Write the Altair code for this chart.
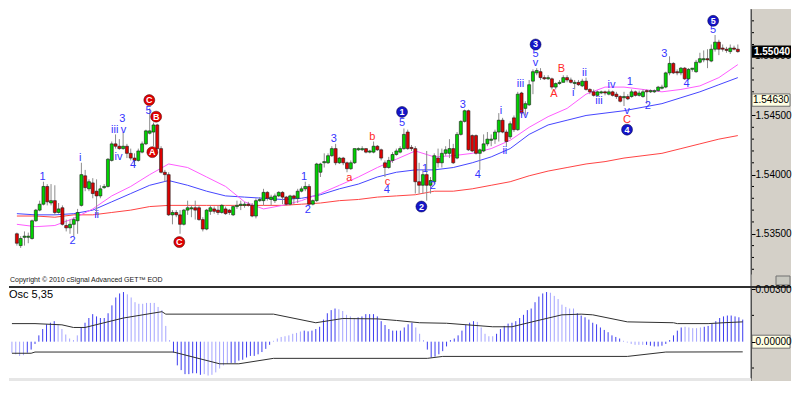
import altair as alt
import pandas as pd

# ---------------- data ----------------
OPEN = [1.5350,1.5340,1.5347,1.5347,1.5346,1.5361,1.5370,1.5375,1.5390,1.5376,
        1.5378,1.5368,1.5372,1.5357,1.5355,1.5358,1.5361,1.5374,1.5399,1.5388,
        1.5393,1.5386,1.5382,1.5389,1.5390,1.5412,1.5426,1.5424,1.5422,1.5424,
        1.5418,1.5414,1.5412,1.5419,1.5426,1.5435,1.5436,1.5442,1.5422,1.5402,
        1.5400,1.5366,1.5368,1.5366,1.5358,1.5370,1.5371,1.5372,1.5372,1.5362,
        1.5354,1.5369,1.5371,1.5370,1.5368,1.5371,1.5370,1.5366,1.5373,1.5374,
        1.5374,1.5375,1.5374,1.5365,1.5378,1.5378,1.5385,1.5379,1.5378,1.5382,
        1.5385,1.5381,1.5375,1.5382,1.5380,1.5386,1.5388,1.5390,1.5375,1.5378,
        1.5402,1.5410,1.5410,1.5416,1.5422,1.5410,1.5414,1.5410,1.5405,1.5410,
        1.5421,1.5421,1.5422,1.5419,1.5419,1.5424,1.5421,1.5410,1.5406,1.5412,
        1.5417,1.5419,1.5422,1.5436,1.5423,1.5422,1.5394,1.5391,1.5400,1.5391,
        1.5394,1.5414,1.5410,1.5418,1.5418,1.5422,1.5414,1.5434,1.5445,1.5454,
        1.5433,1.5433,1.5418,1.5420,1.5426,1.5429,1.5430,1.5436,1.5446,1.5436,
        1.5432,1.5448,1.5438,1.5469,1.5456,1.5459,1.5479,1.5486,1.5487,1.5482,
        1.5481,1.5481,1.5474,1.5477,1.5478,1.5482,1.5480,1.5477,1.5478,1.5475,
        1.5479,1.5472,1.5470,1.5467,1.5469,1.5470,1.5468,1.5470,1.5468,1.5466,
        1.5465,1.5466,1.5466,1.5470,1.5467,1.5466,1.5471,1.5470,1.5470,1.5471,
        1.5473,1.5474,1.5486,1.5494,1.5487,1.5486,1.5490,1.5481,1.5489,1.5487,
        1.5495,1.5497,1.5498,1.5496,1.5506,1.5512,1.5507,1.5506,1.5504,1.5507,
        1.5506]
HIGH = [1.5351,1.5348,1.5352,1.5351,1.5362,1.5371,1.5378,1.5394,1.5392,1.5392,
        1.5391,1.5376,1.5374,1.5362,1.5362,1.5364,1.5371,1.5410,1.5404,1.5396,
        1.5397,1.5396,1.5391,1.5392,1.5414,1.5428,1.5434,1.5430,1.5436,1.5426,
        1.5422,1.5418,1.5422,1.5428,1.5438,1.5456,1.5444,1.5443,1.5424,1.5404,
        1.5402,1.5370,1.5370,1.5370,1.5371,1.5378,1.5374,1.5378,1.5374,1.5364,
        1.5371,1.5374,1.5373,1.5374,1.5375,1.5373,1.5371,1.5374,1.5378,1.5378,
        1.5377,1.5377,1.5376,1.5380,1.5381,1.5388,1.5386,1.5383,1.5384,1.5386,
        1.5386,1.5382,1.5383,1.5383,1.5388,1.5390,1.5394,1.5392,1.5379,1.5410,
        1.5410,1.5418,1.5418,1.5424,1.5426,1.5415,1.5415,1.5411,1.5412,1.5422,
        1.5423,1.5424,1.5422,1.5421,1.5428,1.5425,1.5422,1.5412,1.5415,1.5419,
        1.5422,1.5424,1.5439,1.5438,1.5425,1.5424,1.5410,1.5404,1.5420,1.5398,
        1.5418,1.5422,1.5422,1.5424,1.5430,1.5426,1.5436,1.5446,1.5455,1.5455,
        1.5434,1.5434,1.5422,1.5434,1.5436,1.5434,1.5438,1.5452,1.5448,1.5438,
        1.5445,1.5450,1.5470,1.5470,1.5462,1.5480,1.5489,1.5490,1.5490,1.5484,
        1.5484,1.5482,1.5478,1.5480,1.5484,1.5484,1.5482,1.5480,1.5480,1.5481,
        1.5482,1.5473,1.5472,1.5471,1.5471,1.5471,1.5472,1.5471,1.5470,1.5467,
        1.5470,1.5468,1.5472,1.5471,1.5471,1.5472,1.5472,1.5472,1.5472,1.5475,
        1.5476,1.5487,1.5500,1.5495,1.5489,1.5491,1.5491,1.5490,1.5490,1.5497,
        1.5503,1.5505,1.5506,1.5510,1.5518,1.5514,1.5510,1.5508,1.5510,1.5509,
        1.5510]
LOW = [1.5340,1.5338,1.5340,1.5342,1.5345,1.5360,1.5369,1.5374,1.5374,1.5374,
       1.5366,1.5367,1.5357,1.5352,1.5350,1.5348,1.5350,1.5373,1.5386,1.5386,
       1.5380,1.5366,1.5380,1.5388,1.5389,1.5411,1.5422,1.5421,1.5421,1.5414,
       1.5412,1.5408,1.5411,1.5418,1.5425,1.5434,1.5424,1.5421,1.5401,1.5394,
       1.5365,1.5358,1.5364,1.5350,1.5357,1.5366,1.5364,1.5362,1.5361,1.5352,
       1.5353,1.5366,1.5367,1.5366,1.5367,1.5366,1.5366,1.5365,1.5371,1.5370,
       1.5372,1.5373,1.5364,1.5363,1.5377,1.5374,1.5378,1.5374,1.5376,1.5381,
       1.5375,1.5374,1.5374,1.5375,1.5376,1.5385,1.5386,1.5374,1.5374,1.5377,
       1.5398,1.5406,1.5409,1.5415,1.5408,1.5409,1.5408,1.5402,1.5404,1.5409,
       1.5420,1.5420,1.5418,1.5418,1.5418,1.5420,1.5412,1.5398,1.5405,1.5410,
       1.5416,1.5418,1.5421,1.5421,1.5420,1.5384,1.5384,1.5384,1.5378,1.5384,
       1.5392,1.5406,1.5406,1.5416,1.5414,1.5409,1.5413,1.5433,1.5444,1.5420,
       1.5419,1.5417,1.5404,1.5419,1.5424,1.5424,1.5426,1.5428,1.5435,1.5424,
       1.5430,1.5436,1.5437,1.5450,1.5450,1.5458,1.5468,1.5484,1.5480,1.5480,
       1.5480,1.5472,1.5472,1.5476,1.5478,1.5478,1.5477,1.5472,1.5475,1.5474,
       1.5471,1.5468,1.5466,1.5466,1.5468,1.5467,1.5467,1.5466,1.5464,1.5461,
       1.5458,1.5463,1.5465,1.5466,1.5466,1.5465,1.5460,1.5469,1.5469,1.5470,
       1.5472,1.5473,1.5484,1.5485,1.5484,1.5484,1.5480,1.5480,1.5487,1.5486,
       1.5494,1.5495,1.5490,1.5495,1.5504,1.5501,1.5504,1.5503,1.5502,1.5505,
       1.5503]
CLOSE = [1.5342,1.5346,1.5348,1.5348,1.5361,1.5370,1.5375,1.5390,1.5377,1.5378,
         1.5368,1.5371,1.5358,1.5355,1.5358,1.5362,1.5368,1.5400,1.5389,1.5394,
         1.5384,1.5382,1.5388,1.5390,1.5413,1.5426,1.5424,1.5422,1.5424,1.5418,
         1.5414,1.5412,1.5420,1.5426,1.5437,1.5437,1.5442,1.5422,1.5402,1.5400,
         1.5366,1.5368,1.5366,1.5358,1.5370,1.5372,1.5372,1.5370,1.5362,1.5354,
         1.5370,1.5372,1.5369,1.5368,1.5374,1.5367,1.5368,1.5373,1.5374,1.5375,
         1.5375,1.5374,1.5365,1.5378,1.5379,1.5385,1.5380,1.5381,1.5382,1.5385,
         1.5381,1.5375,1.5382,1.5380,1.5386,1.5388,1.5390,1.5375,1.5378,1.5409,
         1.5409,1.5411,1.5416,1.5422,1.5410,1.5414,1.5410,1.5405,1.5410,1.5422,
         1.5422,1.5422,1.5419,1.5420,1.5424,1.5421,1.5414,1.5406,1.5412,1.5417,
         1.5420,1.5422,1.5434,1.5422,1.5422,1.5394,1.5391,1.5400,1.5391,1.5395,
         1.5416,1.5410,1.5418,1.5421,1.5422,1.5410,1.5434,1.5445,1.5454,1.5421,
         1.5420,1.5418,1.5421,1.5426,1.5430,1.5430,1.5436,1.5446,1.5436,1.5428,
         1.5443,1.5438,1.5468,1.5452,1.5460,1.5476,1.5487,1.5488,1.5482,1.5481,
         1.5482,1.5474,1.5477,1.5478,1.5482,1.5480,1.5478,1.5478,1.5476,1.5479,
         1.5472,1.5470,1.5467,1.5470,1.5470,1.5469,1.5470,1.5467,1.5466,1.5462,
         1.5466,1.5464,1.5470,1.5467,1.5469,1.5470,1.5470,1.5471,1.5471,1.5474,
         1.5474,1.5486,1.5494,1.5486,1.5486,1.5490,1.5481,1.5489,1.5490,1.5495,
         1.5498,1.5498,1.5497,1.5506,1.5512,1.5506,1.5506,1.5505,1.5507,1.5506,
         1.5504]

# moving averages, read at every 5th bar
MA_IDX = [0,5,10,15,20,25,30,35,40,45,50,55,60,65,70,75,80,85,90,95,
          100,105,110,115,120,125,130,135,140,145,150,155,160,165,170,175,180,185,190]
MA_FAST = [1.5358,1.5356,1.5357,1.5363,1.5371,1.5382,1.5390,1.5400,1.5409,1.5406,
           1.5398,1.5390,1.5377,1.5371,1.5374,1.5378,1.5384,1.5391,1.5398,1.5406,
           1.5413,1.5420,1.5415,1.5416,1.5418,1.5422,1.5429,1.5440,1.5449,1.5456,
           1.5468,1.5474,1.5474,1.5472,1.5470,1.5472,1.5475,1.5482,1.5493]
MA_MID = [1.5367,1.5366,1.5366,1.5367,1.5370,1.5377,1.5384,1.5391,1.5395,1.5391,
          1.5386,1.5382,1.5381,1.5380,1.5379,1.5380,1.5383,1.5388,1.5392,1.5398,
          1.5402,1.5404,1.5404,1.5406,1.5410,1.5415,1.5422,1.5434,1.5442,1.5446,
          1.5450,1.5452,1.5454,1.5457,1.5460,1.5465,1.5470,1.5476,1.5482]
MA_SLOW = [1.5365,1.5365,1.5364,1.5366,1.5366,1.5368,1.5370,1.5373,1.5374,1.5374,
           1.5374,1.5374,1.5374,1.5374,1.5374,1.5375,1.5376,1.5378,1.5379,1.5381,
           1.5382,1.5383,1.5386,1.5386,1.5388,1.5391,1.5394,1.5399,1.5403,1.5406,
           1.5409,1.5411,1.5414,1.5416,1.5418,1.5422,1.5426,1.5430,1.5433]

# wave labels: text, bar position, price, kind (b=blue text, r=red text, bc=blue circle, rc=red circle)
LAB_TEXT = ["1","2","i","ii","iii","v","3","iv","4","5",
            "1","2","3","4","5","1","2","3","4","i","ii","iii","iv","5","v",
            "i","ii","iii","iv","1","v","2","3","4","5",
            "a","b","c","A","B","C",
            "C","B","A","C",
            "1","2","3","4","5"]
LAB_X = [6.8,14.7,16.7,21.0,25.8,28.1,27.8,26.8,30.6,34.7,
         75.7,76.7,83.5,97.5,101.5,107.6,109.6,117.5,121.5,127.6,128.6,132.7,133.7,136.7,136.7,
         146.6,149.6,153.4,156.7,161.5,160.8,166.3,170.6,176.5,183.5,
         87.6,93.7,97.7,141.5,143.5,160.8,
         34.9,36.7,35.7,42.8,
         101.5,106.6,136.7,160.8,183.5]
LAB_Y = [1.5398,1.5344,1.5414,1.5366,1.5438,1.5438,1.5447,1.5415,1.5408,1.5454,
         1.5398,1.5370,1.5430,1.5387,1.5444,1.5405,1.5390,1.5459,1.5400,1.5454,1.5420,1.5477,1.5450,1.5502,1.5494,
         1.5469,1.5486,1.5462,1.5476,1.5478,1.5454,1.5458,1.5502,1.5477,1.5522,
         1.5397,1.5432,1.5394,1.5468,1.5489,1.5446,
         1.5463,1.5449,1.5419,1.5343,
         1.5453,1.5373,1.5510,1.5438,1.5530]
LAB_KIND = ["b"]*35 + ["r"]*6 + ["rc"]*4 + ["bc"]*5

# oscillator 5,35
OSC = [-0.00063,-0.00072,-0.00081,-0.00077,-0.00063,-0.00045,-0.00013,0.00036,0.00072,0.00099,
       0.00108,0.00117,0.00099,0.00072,0.00041,0.00018,0.00009,0.00036,0.00081,0.00108,
       0.00135,0.00157,0.00144,0.00135,0.00135,0.00162,0.00207,0.00252,0.00275,0.00283,
       0.00270,0.00252,0.00225,0.00216,0.00216,0.00221,0.00221,0.00221,0.00198,0.00180,
       0.00090,0.00009,-0.00063,-0.00135,-0.00162,-0.00185,-0.00185,-0.00180,-0.00180,-0.00189,
       -0.00185,-0.00193,-0.00189,-0.00175,-0.00153,-0.00135,-0.00126,-0.00121,-0.00121,-0.00108,
       -0.00103,-0.00090,-0.00081,-0.00081,-0.00072,-0.00059,-0.00041,-0.00018,0.00005,0.00018,
       0.00027,0.00031,0.00036,0.00045,0.00050,0.00058,0.00063,0.00059,0.00063,0.00072,
       0.00085,0.00126,0.00162,0.00180,0.00189,0.00185,0.00175,0.00153,0.00144,0.00135,
       0.00139,0.00144,0.00157,0.00157,0.00157,0.00144,0.00117,0.00095,0.00072,0.00063,
       0.00063,0.00063,0.00081,0.00099,0.00108,0.00081,0.00045,0.00009,-0.00045,-0.00090,
       -0.00085,-0.00072,-0.00054,-0.00027,0.00009,0.00018,0.00036,0.00063,0.00095,0.00108,
       0.00117,0.00113,0.00081,0.00045,0.00031,0.00031,0.00045,0.00072,0.00090,0.00103,
       0.00108,0.00117,0.00135,0.00153,0.00180,0.00189,0.00225,0.00257,0.00275,0.00283,
       0.00279,0.00261,0.00243,0.00211,0.00198,0.00189,0.00189,0.00162,0.00149,0.00139,
       0.00126,0.00108,0.00099,0.00081,0.00067,0.00054,0.00036,0.00027,0.00018,0.00005,
       -0.00005,-0.00013,-0.00018,-0.00018,-0.00018,-0.00018,-0.00023,-0.00027,-0.00027,-0.00023,
       -0.00013,0.00009,0.00036,0.00063,0.00081,0.00085,0.00081,0.00077,0.00077,0.00081,
       0.00085,0.00090,0.00103,0.00117,0.00135,0.00144,0.00149,0.00149,0.00144,0.00139,
       0.00126]
# shade of the oscillator bars, run-length (D = dark, L = light)
OSC_SHADE_RUNS = [("L",4),("D",8),("L",6),("D",12),("L",12),("D",8),("L",7),("D",11),
                  ("L",8),("D",9),("L",5),("D",15),("L",3),("D",13),("L",5),("D",14),
                  ("L",7),("D",12),("L",6),("D",10),("L",5),("D",11)]
BAND_UP_IDX = [0,6,13,16,19,29,39,40,68,79,86,95,100,106,113,125,130,136,143,148,151,160,172,173,181,185,190]
BAND_UP = [0.00103,0.00103,0.00096,0.00081,0.00081,0.00135,0.00171,0.00157,0.00157,0.00108,
           0.00132,0.00130,0.00121,0.00108,0.00105,0.00085,0.00085,0.00117,0.00153,0.00157,
           0.00153,0.00113,0.00108,0.00103,0.00103,0.00108,0.00113]
BAND_LO_IDX = [0,5,6,42,54,59,68,108,112,160,170,190]
BAND_LO = [-0.00066,-0.00066,-0.00059,-0.00059,-0.00126,-0.00126,-0.00095,-0.00095,
           -0.00084,-0.00084,-0.00059,-0.00058]

PRICE_LABELS = [1.535, 1.540, 1.545]
PRICE_MINOR = [1.532,1.533,1.534,1.536,1.537,1.538,1.539,1.541,1.542,1.543,1.544,
               1.546,1.547,1.548,1.549,1.551,1.552,1.553]
OSC_LABELS = [0.0, 0.003]
OSC_MINOR = [0.0015, -0.0015]
LAST_PRICE = 1.5504
MARK_PRICE = 1.5463
ROUND_PRICE = 1.5500

# ---------------- layout ----------------
FONT = "Liberation Sans"
W = 742
BAND = 40
H1 = 265
H2 = 90

xs = alt.Scale(domain=[-0.76, 192.15], nice=False, zero=False)
ys = alt.Scale(domain=[1.5316, 1.5540], nice=False, zero=False)
yo = alt.Scale(domain=[-0.00207, 0.00306], nice=False, zero=False)
X = alt.X("i:Q", scale=xs, axis=None)

price_axis = alt.Axis(orient="right", values=PRICE_LABELS, format=".5f", labelFont=FONT,
                      labelFontSize=10, labelColor="black", tickSize=4, tickColor="black",
                      domainColor="#505050", grid=False, title=None, labelPadding=0, zindex=1)
osc_axis = alt.Axis(orient="right", values=OSC_LABELS, format=".5f", labelFont=FONT, labelFontSize=10,
                    labelColor="black", tickSize=4, tickColor="black", domainColor="#505050",
                    grid=False, title=None, labelPadding=0, zindex=1)

def YP(field):
    return alt.Y(field, scale=ys, axis=price_axis, title=None)

def YO(field):
    return alt.Y(field, scale=yo, axis=osc_axis, title=None)

one = pd.DataFrame({"a": [0]})

cdf = pd.DataFrame({"i": list(range(len(OPEN))), "o": OPEN, "h": HIGH, "l": LOW, "c": CLOSE})
cdf["dir"] = ["up" if c >= o else "down" for o, c in zip(OPEN, CLOSE)]

band = alt.Chart(one).mark_rect(color="#d4d0c8").encode(
    x=alt.value(W), x2=alt.value(W + BAND), y=alt.value(0), y2=alt.value(H1 + 12))
band_edge = alt.Chart(one).mark_rule(color="#505050").encode(
    x=alt.value(W), y=alt.value(0), y2=alt.value(H1 + 12))
icon = alt.Chart(one).mark_rect(fill="#c8c8c0", stroke="#707070", strokeWidth=1).encode(
    x=alt.value(W + BAND - 15), x2=alt.value(W + BAND - 1), y=alt.value(H1 + 2), y2=alt.value(H1 + 11))

def ma_line(vals, color):
    d = pd.DataFrame({"i": MA_IDX, "v": vals})
    return alt.Chart(d).mark_line(color=color, strokeWidth=1).encode(x=X, y=YP("v:Q"))

ma_slow = ma_line(MA_SLOW, "#ff4444")
ma_mid = ma_line(MA_MID, "#4646ff")
ma_fast = ma_line(MA_FAST, "#ff5cff")

wicks = alt.Chart(cdf).mark_rule(color="#8c8c8c", strokeWidth=1).encode(
    x=X, y=YP("l:Q"), y2="h:Q")
bodies_up = alt.Chart(cdf[cdf.dir == "up"]).mark_bar(
    size=3, color="#00d400", stroke="#1a1a1a", strokeWidth=0.6).encode(x=X, y=YP("o:Q"), y2="c:Q")
bodies_dn = alt.Chart(cdf[cdf.dir == "down"]).mark_bar(
    size=3, color="#e00000", stroke="#1a1a1a", strokeWidth=0.6).encode(x=X, y=YP("o:Q"), y2="c:Q")

lab = pd.DataFrame({"t": LAB_TEXT, "i": LAB_X, "p": LAB_Y, "k": LAB_KIND})
blue_txt = alt.Chart(lab[lab.k == "b"]).mark_text(color="#3434ff", fontSize=11, font=FONT).encode(
    x=X, y=YP("p:Q"), text="t:N")
red_txt = alt.Chart(lab[lab.k == "r"]).mark_text(color="#ff2a2a", fontSize=11, font=FONT).encode(
    x=X, y=YP("p:Q"), text="t:N")
circ_b = alt.Chart(lab[lab.k == "bc"]).mark_circle(size=120, opacity=1, color="#1414c8",
                                                   stroke="#000040", strokeWidth=0.5).encode(
    x=X, y=YP("p:Q"))
circ_r = alt.Chart(lab[lab.k == "rc"]).mark_circle(size=120, opacity=1, color="#e00000",
                                                   stroke="#400000", strokeWidth=0.5).encode(
    x=X, y=YP("p:Q"))
circ_txt = alt.Chart(lab[lab.k.isin(["bc", "rc"])]).mark_text(color="white", fontSize=9,
                                                              fontWeight="bold", font=FONT).encode(
    x=X, y=YP("p:Q"), text="t:N")

minor = alt.Chart(pd.DataFrame({"p": PRICE_MINOR})).mark_rule(color="black").encode(
    y=YP("p:Q"), x=alt.value(W), x2=alt.value(W + 3))

round_txt = alt.Chart(pd.DataFrame({"p": [ROUND_PRICE]})).mark_text(
    align="left", fontSize=10, font=FONT, color="black", dx=4).encode(
    y=YP("p:Q"), x=alt.value(W), text=alt.value("1.55000"))

boxes = pd.DataFrame({"p": [LAST_PRICE, MARK_PRICE],
                      "hi": [LAST_PRICE + 0.00052, MARK_PRICE + 0.00052],
                      "lo": [LAST_PRICE - 0.00052, MARK_PRICE - 0.00052],
                      "t": ["1.55040", "1.54630"], "k": ["last", "mark"]})
box_last = alt.Chart(boxes[boxes.k == "last"]).mark_rect(fill="black").encode(
    y=YP("hi:Q"), y2="lo:Q", x=alt.value(W + 1), x2=alt.value(W + BAND))
box_mark = alt.Chart(boxes[boxes.k == "mark"]).mark_rect(fill="#ffffe4", stroke="#707070",
                                                         strokeWidth=1).encode(
    y=YP("hi:Q"), y2="lo:Q", x=alt.value(W + 1), x2=alt.value(W + BAND - 1))
txt_last = alt.Chart(boxes[boxes.k == "last"]).mark_text(color="white", fontSize=10, fontWeight="bold",
                                                        font=FONT).encode(
    y=YP("p:Q"), x=alt.value(W + BAND / 2 + 1), text="t:N")
txt_mark = alt.Chart(boxes[boxes.k == "mark"]).mark_text(color="black", fontSize=10, font=FONT).encode(
    y=YP("p:Q"), x=alt.value(W + BAND / 2), text="t:N")

copy_txt = alt.Chart(one).mark_text(align="left", baseline="middle", fontSize=7, font=FONT,
                                    color="#202020").encode(
    x=alt.value(1), y=alt.value(H1 + 6), text=alt.value("Copyright \u00a9 2010 cSignal Advanced GET\u2122 EOD"))

main = alt.layer(band, band_edge, icon, ma_slow, ma_mid, ma_fast, wicks, bodies_up, bodies_dn,
                 blue_txt, red_txt, circ_b, circ_r, circ_txt, minor, round_txt,
                 box_last, box_mark, txt_last, txt_mark, copy_txt).properties(width=W, height=H1)

# ---------------- oscillator panel ----------------
shade = []
for s, n in OSC_SHADE_RUNS:
    shade += [s] * n
odf = pd.DataFrame({"i": list(range(len(OSC))), "v": OSC, "s": shade[:len(OSC)]})

oband = alt.Chart(one).mark_rect(color="#d4d0c8").encode(
    x=alt.value(W), x2=alt.value(W + BAND), y=alt.value(0), y2=alt.value(H2 + 3))
oband_edge = alt.Chart(one).mark_rule(color="#505050").encode(
    x=alt.value(W), y=alt.value(0), y2=alt.value(H2 + 3))
ostrip = alt.Chart(one).mark_rect(color="#e6e6e6").encode(
    x=alt.value(0), x2=alt.value(W), y=alt.value(H2), y2=alt.value(H2 + 3))
zero_box = alt.Chart(pd.DataFrame({"hi": [0.00037], "lo": [-0.00037]})).mark_rect(
    fill="#ffffe4", stroke="#707070", strokeWidth=1).encode(
    y=YO("hi:Q"), y2="lo:Q", x=alt.value(W + 1), x2=alt.value(W + BAND - 1))
bars_d = alt.Chart(odf[odf.s == "D"]).mark_rule(strokeWidth=1, color="#3c3cf0").encode(
    x=X, y=YO("v:Q"), y2=alt.datum(0))
bars_l = alt.Chart(odf[odf.s == "L"]).mark_rule(strokeWidth=1, color="#a4a4ff").encode(
    x=X, y=YO("v:Q"), y2=alt.datum(0))
up_line = alt.Chart(pd.DataFrame({"i": BAND_UP_IDX, "v": BAND_UP})).mark_line(
    color="#303030", strokeWidth=1).encode(x=X, y=YO("v:Q"))
lo_line = alt.Chart(pd.DataFrame({"i": BAND_LO_IDX, "v": BAND_LO})).mark_line(
    color="#303030", strokeWidth=1).encode(x=X, y=YO("v:Q"))
ominor = alt.Chart(pd.DataFrame({"v": OSC_MINOR})).mark_rule(color="black").encode(
    y=YO("v:Q"), x=alt.value(W), x2=alt.value(W + 3))
otitle = alt.Chart(one).mark_text(align="left", baseline="middle", fontSize=11, font=FONT,
                                  color="black").encode(
    x=alt.value(0), y=alt.value(7), text=alt.value("Osc 5,35"))
oborder = alt.Chart(one).mark_rule(color="#303030", strokeWidth=2).encode(
    x=alt.value(0), x2=alt.value(W + BAND), y=alt.value(-1))

osc = alt.layer(oband, oband_edge, ostrip, zero_box, bars_d, bars_l, up_line, lo_line, ominor, otitle,
                oborder).properties(width=W, height=H2)

chart = alt.vconcat(main, osc, spacing=14, bounds="flush").properties(
    padding=0, background="white").configure_view(stroke=None)

chart.save("out.html", embed_options={"renderer": "svg", "actions": False})
